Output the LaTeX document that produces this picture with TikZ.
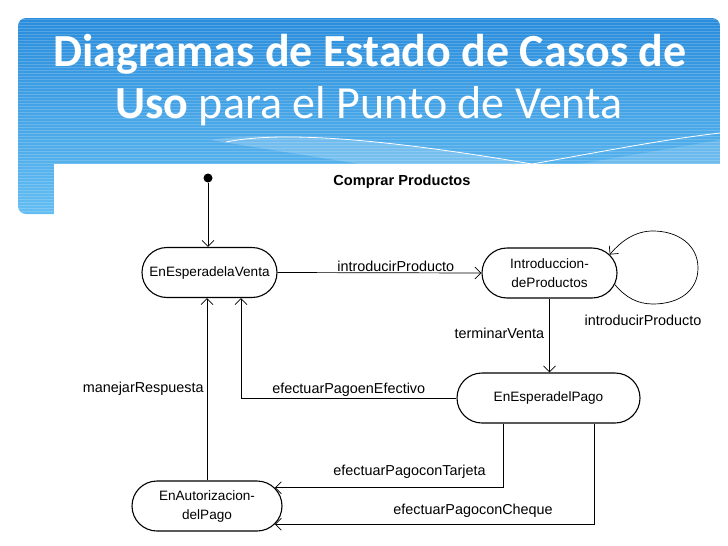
\documentclass[tikz,border=0pt]{standalone}
\usepackage{fontspec}
\setmainfont{Liberation Sans}
\newfontfamily\titlefont{Carlito}
\usetikzlibrary{shapes.misc,arrows.meta,calc}
\definecolor{bantop}{HTML}{2A8DDC}
\definecolor{banbot}{HTML}{64BEF2}
\begin{document}
\begin{tikzpicture}[x=1pt,y=-1pt,
  state/.style={rounded rectangle, draw, line width=1.1pt, minimum height=50pt, inner sep=0pt, align=center, font=\fontsize{13.6}{19}\selectfont},
  arr/.style={line width=0.7pt, -{Straight Barb[length=6pt,width=12pt]}},
  lbl/.style={font=\fontsize{14.4}{16}\selectfont, inner sep=1pt}]
\useasboundingbox (0,0) rectangle (728,546);
\fill[white] (0,0) rectangle (728,546);
% banner
\begin{scope}
\clip[rounded corners=8pt] (18,18) rectangle (720,214);
\shade[top color=bantop, bottom color=banbot] (18,18) rectangle (720,214);
\foreach \y in {19,22,...,214} \draw[white, opacity=0.18, line width=1pt] (18,\y) -- (720,\y);
\fill[white, opacity=0.2] (210,140) .. controls (270,131) and (380,138) .. (532,164) -- (360,164) -- cycle;
\fill[white, opacity=0.15] (580,164) -- (720,140) -- (720,164) -- cycle;
\draw[white, line width=0.8pt] (226,142) .. controls (280,131) and (380,138) .. (532,164) .. controls (600,152) and (660,140) .. (720,133);
\end{scope}
\fill[white] (54,164) rectangle (728,546);
\node[anchor=base, text=white, font=\titlefont\bfseries\fontsize{46}{50}\selectfont] (t1) at (370,66) {Diagramas de Estado de Casos de};
\node[anchor=base, text=white, font=\titlefont\fontsize{46}{50}\selectfont] (t2) at (369,118) {\textbf{Uso} para el Punto de Venta};
% diagram
\node[font=\bfseries\fontsize{14.6}{16}\selectfont] (title) at (402,182) {Comprar Productos};
\node[circle, fill, inner sep=0pt, minimum size=9pt] (init) at (208,178) {};
\node[state, minimum width=135pt] (A) at (209.5,272.5) {EnEsperadelaVenta};
\node[state, minimum width=135pt] (B) at (549.5,273) {Introduccion-\\deProductos};
\node[state, minimum width=183pt] (C) at (548.5,398) {EnEsperadelPago};
\node[state, minimum width=150pt] (D) at (207,506) {EnAutorizacion-\\delPago};
\draw[arr] (init) -- (init |- A.north);
\draw[arr] (A.east) -- node[lbl, above, pos=0.58]{introducirProducto} (B.west);
\draw[arr] (B.-10) .. controls (626,298) and (638,304) .. (653,304)
   .. controls (680,304) and (698,290) .. (698,268)
   .. controls (698,245) and (678,231) .. (653,231)
   .. controls (636,231) and (622,240) .. (B.17);
\node[lbl] (lp) at (643,320) {introducirProducto};
\draw[arr] (B.south) -- node[lbl, left, pos=0.47, inner sep=5pt]{terminarVenta} (B.south |- C.north);
\draw[arr] (C.west) -| node[lbl, above, pos=0.25]{efectuarPagoenEfectivo} ($(A.south)+(31.5,0)$);
\draw[arr] (D.north) -- node[lbl, left, inner sep=3pt]{manejarRespuesta} (D.north |- A.south);
\draw[arr] ($(C.south)+(-45.5,0)$) |- node[lbl, above=8pt, pos=0.705]{efectuarPagoconTarjeta} (D.15);
\draw[arr] ($(C.south)+(46,0)$) |- node[lbl, above=5pt, pos=0.69]{efectuarPagoconCheque} (D.-15);
\end{tikzpicture}
\end{document}
